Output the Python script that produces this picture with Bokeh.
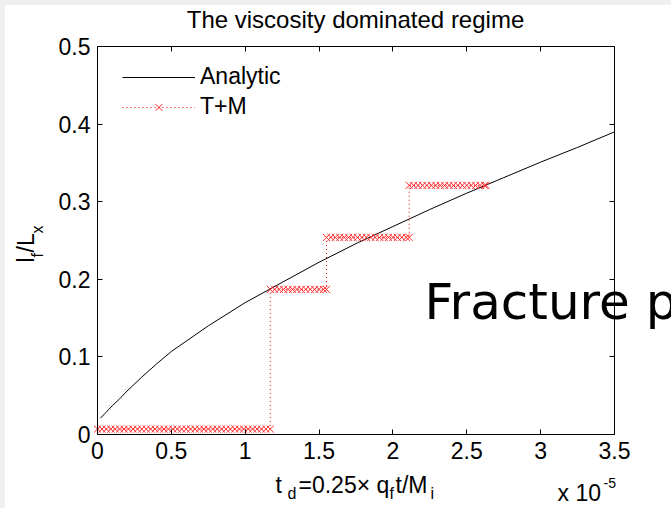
import numpy as np
from bokeh.plotting import figure
from bokeh.models import (Label, LinearAxis, FixedTicker, CustomJSTickFormatter,
                          Legend, LegendItem, Div, Range1d)
from bokeh.layouts import column, row
from bokeh.embed import file_html
from bokeh.resources import INLINE

# ---------------- data (x in units of 1e-5) ----------------
analytic_t = [0.02, 0.05, 0.1, 0.15, 0.2, 0.3, 0.4, 0.5, 0.75, 1.0, 1.25, 1.5,
              1.75, 2.0, 2.25, 2.5, 2.75, 3.0, 3.25, 3.5]
analytic_l = [0.021, 0.027, 0.037, 0.046, 0.056, 0.074, 0.091, 0.107, 0.14, 0.17,
              0.196, 0.222, 0.246, 0.268, 0.29, 0.311, 0.331, 0.351, 0.37, 0.39]

tm_levels = [0.007, 0.187, 0.254, 0.321]
tm_starts = [0.0, 1.17, 1.55, 2.11]
tm_ends = [1.17, 1.55, 2.11, 2.63]
tm_dt = 0.03

x_ticks = [0, 0.5, 1, 1.5, 2, 2.5, 3, 3.5]
x_tick_labels = ["0", "0.5", "1", "1.5", "2", "2.5", "3", "3.5"]
y_ticks = [0, 0.1, 0.2, 0.3, 0.4, 0.5]
y_tick_labels = ["0", "0.1", "0.2", "0.3", "0.4", "0.5"]

tm_t, tm_l = [], []
for lev, a, b in zip(tm_levels, tm_starts, tm_ends):
    ts = list(np.arange(a, b + 1e-9, tm_dt))
    if abs(ts[-1] - b) > 1e-6:
        ts.append(b)
    tm_t += [float(v) for v in ts]
    tm_l += [lev] * len(ts)

FONT = "Liberation Sans"
FS = "23px"
SUB = "16px"

# canvas of the figure: 666 x 503; axes box at x 92..609, y(top) 41..429
W, H = 666, 503
BOX_L, BOX_R, BOX_T, BOX_B = 92, 609, 41, 429
xs = (BOX_R - BOX_L) / (x_ticks[-1] - x_ticks[0])
ys = (BOX_B - BOX_T) / (y_ticks[-1] - y_ticks[0])
x_range = Range1d(x_ticks[0] - BOX_L / xs, x_ticks[-1] + (W - BOX_R) / xs)
y_range = Range1d(y_ticks[0] - (H - BOX_B) / ys, y_ticks[-1] + BOX_T / ys)

fig = figure(width=W, height=H, x_range=x_range, y_range=y_range,
             output_backend="svg", toolbar_location=None, title=None,
             x_axis_location=None, y_axis_location=None,
             min_border=0, min_border_left=0, min_border_right=0,
             min_border_top=0, min_border_bottom=0,
             background_fill_color="white", border_fill_color="white",
             outline_line_color=None)
fig.xgrid.visible = False
fig.ygrid.visible = False


def fmt(ticks, labels):
    return CustomJSTickFormatter(args=dict(tv=ticks, tl=labels), code="""
        const i = tv.findIndex(t => Math.abs(t - tick) < 1e-9);
        return i >= 0 ? tl[i] : '';
    """)


def make_axis(ticks, labels, loc, bounds, show_labels=True, standoff=8):
    ax = LinearAxis(fixed_location=loc, bounds=bounds)
    ax.ticker = FixedTicker(ticks=ticks)
    ax.minor_tick_line_color = None
    ax.major_tick_in = 5
    ax.major_tick_out = 0
    ax.major_tick_line_color = "black"
    ax.axis_line_color = "black"
    if show_labels:
        ax.formatter = fmt(ticks, labels)
        ax.major_label_text_font = FONT
        ax.major_label_text_font_size = FS
        ax.major_label_text_color = "black"
        ax.major_label_standoff = standoff
    else:
        ax.formatter = CustomJSTickFormatter(code="return '';")
        ax.major_label_text_font_size = "0px"
    return ax


xb = (x_ticks[0], x_ticks[-1])
yb = (y_ticks[0], y_ticks[-1])
fig.add_layout(make_axis(x_ticks, x_tick_labels, y_ticks[0], xb, standoff=7), "below")
fig.add_layout(make_axis(y_ticks, y_tick_labels, x_ticks[0], yb, standoff=7), "left")
fig.add_layout(make_axis(x_ticks, x_tick_labels, y_ticks[-1], xb, show_labels=False), "above")
fig.add_layout(make_axis(y_ticks, y_tick_labels, x_ticks[-1], yb, show_labels=False), "right")

r_an = fig.line(analytic_t, analytic_l, line_color="black", line_width=1)
r_tm_line = fig.line(tm_t, tm_l, line_color="#ff0000", line_dash="1 3", line_width=1)
r_tm_pts = fig.scatter(tm_t, tm_l, marker="x", size=10, line_color="#ff2a2a", line_width=1)

legend = Legend(items=[LegendItem(label="Analytic", renderers=[r_an]),
                       LegendItem(label="T+M", renderers=[r_tm_line, r_tm_pts])],
                location=(117, 388), padding=0, margin=0, spacing=3,
                glyph_width=73, glyph_height=24, label_height=24, label_standoff=5,
                label_text_font=FONT, label_text_font_size=FS, label_text_color="black",
                border_line_alpha=0, background_fill_alpha=0)
fig.add_layout(legend)


def lab(text, x, y, size=FS, font=FONT, align="left", angle=0.0, baseline="alphabetic"):
    # x from the canvas' left, y from the canvas' bottom
    fig.add_layout(Label(x=x, y=y, x_units="screen", y_units="screen", text=text,
                         text_font=font, text_font_size=size, text_color="black",
                         text_align=align, text_baseline=baseline, angle=angle))


# title
lab("The viscosity dominated regime", 350, 489, size="24px", align="center")
# x label pieces
lab("t", 270, 24)
lab("d", 282, 15, size=SUB)
lab("=0.25\u00d7 q", 293, 24)
lab("f", 384, 15, size=SUB)
lab("t/M", 390, 24)
lab("i", 425, 15, size=SUB)
# exponent
lab("x 10", 552, 16)
lab("-5", 598, 26, size="14px")
# y label pieces (rotated)
lab("l", 20, 246, angle=np.pi / 2)
lab("f", 32, 251, size=SUB, angle=np.pi / 2)
lab("/L", 20, 256, angle=np.pi / 2)
lab("x", 32, 275, size=SUB, angle=np.pi / 2)
# overlaid slide text
lab("Fracture p", 419, 207, size="50px", font="DejaVu Sans")

gray = {"background-color": "#f0f0f0"}
p = column(Div(width=671, height=5, margin=0, styles=gray),
           row(Div(width=5, height=503, margin=0, styles=gray), fig, spacing=0),
           spacing=0)

open("out.html", "w").write(file_html(p, INLINE))
